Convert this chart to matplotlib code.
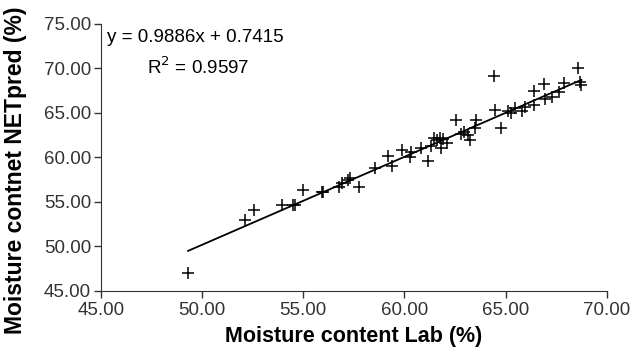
import numpy as np
import matplotlib.pyplot as plt

plt.rcParams['font.family'] = ['Liberation Sans', 'DejaVu Sans']

# moisture content measured in lab (%) vs predicted by NET (%)
lab = [49.31, 52.11, 52.56, 53.96, 54.5, 54.6, 55.0, 55.93, 56.0, 56.76,
       56.9, 57.2, 57.3, 57.76, 58.57, 59.2, 59.4, 59.9, 60.35, 60.3,
       60.8, 61.17, 61.33, 61.47, 61.6, 61.75, 61.9, 62.1, 61.8, 62.57,
       62.79, 62.95, 63.12, 63.23, 63.53, 63.5, 64.43, 64.5, 64.76, 65.12,
       65.29, 65.45, 65.83, 65.95, 66.39, 66.4, 66.89, 66.97, 67.3, 67.63,
       67.9, 68.58, 68.67, 68.75]
pred = [46.99, 52.98, 54.1, 54.6, 54.7, 54.7, 56.3, 56.16, 56.16, 56.7,
        57.1, 57.5, 57.7, 56.65, 58.8, 60.1, 59.0, 60.8, 60.65, 60.0,
        61.0, 59.64, 61.3, 62.16, 61.97, 62.16, 62.04, 61.6, 61.1, 64.2,
        62.64, 62.9, 62.53, 61.97, 64.2, 63.3, 69.16, 65.3, 63.3, 65.26,
        64.97, 65.53, 65.26, 65.7, 67.4, 65.9, 68.2, 66.6, 66.8, 67.3,
        68.4, 70.0, 68.5, 68.1]

slope, intercept = 0.9886, 0.7415
r2 = 0.9597

lab = np.array(lab)
xfit = np.array([lab.min(), lab.max()])

fig = plt.figure(figsize=(6.34, 3.56), dpi=100)
ax = fig.add_axes([0.159, 0.183, 0.798, 0.75])

ax.plot(lab, pred, '+', color='black', markersize=8.5, markeredgewidth=1.1)
ax.plot(xfit, slope * xfit + intercept, color='black', linewidth=1.3)

ax.set_xlim(45, 70)
ax.set_ylim(45, 75)
ax.set_xticks(np.arange(45, 71, 5))
ax.set_yticks(np.arange(45, 76, 5))
ax.xaxis.set_major_formatter(plt.FormatStrFormatter('%.2f'))
ax.yaxis.set_major_formatter(plt.FormatStrFormatter('%.2f'))
ax.tick_params(direction='out', length=5, width=1, labelsize=13.5, colors='#333333',
               labelcolor='#333333', pad=2)
ax.tick_params(axis='x', pad=3)
ax.spines['top'].set_visible(False)
ax.spines['right'].set_visible(False)
for s in ['left', 'bottom']:
    ax.spines[s].set_color('#333333')

ax.set_xlabel('Moisture content Lab (%)', fontsize=15.5, fontweight='bold', labelpad=5)
ax.set_ylabel('Moisture contnet NETpred (%)', fontsize=16.5, fontweight='bold')
ax.yaxis.set_label_coords(-0.145, 0.45)

ax.text(0.012, 0.948, 'y = 0.9886x + 0.7415', transform=ax.transAxes, fontsize=13.5,
        va='center', ha='left')
ax.text(0.091, 0.839, 'R$^2$ = %.4f' % r2, transform=ax.transAxes, fontsize=13.5,
        va='center', ha='left')

fig.savefig('out.png', dpi=100)
